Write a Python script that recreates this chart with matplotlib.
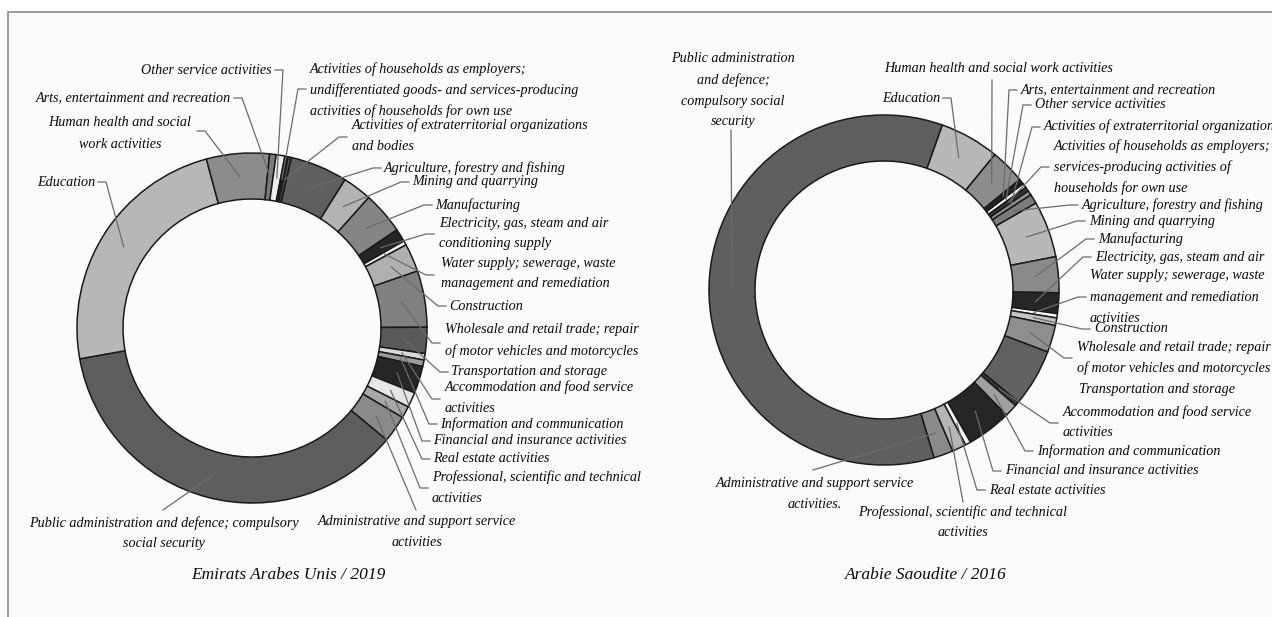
import matplotlib
matplotlib.use('Agg')
import matplotlib.pyplot as plt
from matplotlib.patches import Rectangle
import numpy as np

W, H = 1272, 617

# ISIC sections, clockwise order in both rings
sectors = ['Agriculture', 'Mining', 'Manufacturing', 'Electricity', 'Water supply',
           'Construction', 'Wholesale', 'Transportation', 'Accommodation', 'Information',
           'Financial', 'Real estate', 'Professional', 'Administrative', 'Public administration',
           'Education', 'Human health', 'Arts', 'Other service', 'Households', 'Extraterritorial']

# shares of employment (%)
uae_share = [5.3, 2.7, 3.9, 1.2, 0.4, 2.6, 5.2, 2.4, 0.6, 0.6, 2.5,
             1.4, 1.1, 2.5, 36.1, 23.6, 5.8, 0.6, 0.8, 0.3, 0.3]
ksa_share = [0.9, 5.2, 3.3, 1.9, 0.4, 0.7, 2.5, 5.3, 0.4, 1.2, 4.1,
             0.5, 1.3, 1.8, 59.9, 5.5, 3.2, 0.5, 0.4, 0.4, 0.4]

uae_colors = ['#5f5f5f', '#b3b3b3', '#858585', '#252525', '#f2f2f2', '#b0b0b0', '#808080',
              '#5a5a5a', '#d9d9d9', '#9a9a9a', '#262626', '#e6e6e6', '#a8a8a8', '#8a8a8a',
              '#5e5e5e', '#b7b7b7', '#8c8c8c', '#7a7a7a', '#ececec', '#1e1e1e', '#4a4a4a']
ksa_colors = ['#7c7c7c', '#b8b8b8', '#8a8a8a', '#262626', '#f5f5f5', '#c4c4c4', '#8e8e8e',
              '#616161', '#3a3a3a', '#a0a0a0', '#262626', '#f5f5f5', '#b5b5b5', '#8a8a8a',
              '#5f5f5f', '#b8b8b8', '#8c8c8c', '#222222', '#ffffff', '#333333', '#909090']

# label layout: (sector index, lines, x, y of first line, ha, leader start, leader kind)
uae_labels = [
    (0, ['Agriculture, forestry and fishing'], 384, 168, 'left', (381, 168), 'elbow'),
    (1, ['Mining and quarrying'], 412, 182, 'left', (409, 182), 'elbow'),
    (2, ['Manufacturing'], 435, 205, 'left', (432, 205), 'elbow'),
    (3, ['Electricity, gas, steam and air', 'conditioning supply'], 439, 223, 'left', (434, 234), 'elbow'),
    (4, ['Water supply; sewerage, waste', 'management and remediation'], 441, 263, 'left', (434, 275), 'elbow'),
    (5, ['Construction'], 449, 306, 'left', (446, 306), 'elbow'),
    (6, ['Wholesale and retail trade; repair', 'of motor vehicles and motorcycles'], 445, 330, 'left', (440, 343), 'elbow'),
    (7, ['Transportation and storage'], 451, 372, 'left', (448, 372), 'elbow'),
    (8, ['Accommodation and food service', 'activities'], 445, 387, 'left', (440, 399), 'elbow'),
    (9, ['Information and communication'], 440, 424, 'left', (437, 424), 'elbow'),
    (10, ['Financial and insurance activities'], 433, 441, 'left', (430, 441), 'elbow'),
    (11, ['Real estate activities'], 433, 459, 'left', (430, 459), 'elbow'),
    (12, ['Professional, scientific and technical', 'activities'], 432, 477, 'left', (428, 488), 'elbow'),
    (13, ['Administrative and support service', 'activities'], 417, 522, 'center', (416, 510), 'direct'),
    (14, ['Public administration and defence; compulsory', 'social security'], 164, 523, 'center', (163, 510), 'direct'),
    (15, ['Education'], 95, 182, 'right', (98, 182), 'elbow'),
    (16, ['Human health and social', 'work activities'], 120, 123, 'center', (197, 131), 'elbow_r'),
    (17, ['Arts, entertainment and recreation'], 231, 98, 'right', (234, 98), 'elbow'),
    (18, ['Other service activities'], 272, 70, 'right', (275, 70), 'elbow'),
    (19, ['Activities of households as employers;', 'undifferentiated goods- and services-producing',
          'activities of households for own use'], 310, 69, 'left', (306, 89), 'elbow'),
    (20, ['Activities of extraterritorial organizations', 'and bodies'], 352, 125, 'left', (347, 137), 'elbow'),
]

ksa_labels = [
    (0, ['Agriculture, forestry and fishing'], 1082, 205, 'left', (1078, 205), 'elbow'),
    (1, ['Mining and quarrying'], 1089, 221, 'left', (1085, 221), 'elbow'),
    (2, ['Manufacturing'], 1098, 239, 'left', (1094, 239), 'elbow'),
    (3, ['Electricity, gas, steam and air'], 1095, 257, 'left', (1091, 257), 'elbow'),
    (4, ['Water supply; sewerage, waste', 'management and remediation', 'activities'], 1090, 276, 'left', (1086, 297), 'elbow'),
    (5, ['Construction'], 1094, 329, 'left', (1090, 329), 'elbow'),
    (6, ['Wholesale and retail trade; repair', 'of motor vehicles and motorcycles'], 1077, 347, 'left', (1072, 358), 'elbow'),
    (7, ['Transportation and storage'], 1079, 390, 'left', None, None),
    (8, ['Accommodation and food service', 'activities'], 1063, 412, 'left', (1058, 423), 'elbow'),
    (9, ['Information and communication'], 1037, 451, 'left', (1033, 451), 'elbow'),
    (10, ['Financial and insurance activities'], 1005, 471, 'left', (1001, 471), 'elbow'),
    (11, ['Real estate activities'], 989, 490, 'left', (985, 490), 'elbow'),
    (12, ['Professional, scientific and technical', 'activities'], 963, 512, 'center', (963, 502), 'direct'),
    (13, ['Administrative and support service', 'activities.'], 815, 483, 'center', (813, 470), 'direct'),
    (14, ['Public administration', 'and defence;', 'compulsory social', 'security'], 733, 59, 'center', (731, 130), 'direct'),
    (15, ['Education'], 940, 98, 'right', (943, 98), 'elbow'),
    (16, ['Human health and social work activities'], 884, 68, 'left', (992, 80), 'direct'),
    (17, ['Arts, entertainment and recreation'], 1021, 90, 'left', (1017, 90), 'elbow'),
    (18, ['Other service activities'], 1035, 105, 'left', (1031, 105), 'elbow'),
    (19, ['Activities of households as employers;', 'services-producing activities of',
          'households for own use'], 1054, 146, 'left', (1049, 167), 'elbow'),
    (20, ['Activities of extraterritorial organizations'], 1044, 126, 'left', (1040, 127), 'elbow'),
]

plt.rcParams['font.family'] = ['Liberation Serif', 'DejaVu Serif']

fig = plt.figure(figsize=(W / 100, H / 100), dpi=100)
fig.patch.set_facecolor('white')
ax = fig.add_axes([0, 0, 1, 1])

ax.add_patch(Rectangle((8, -10), W + 20, H - 12 + 10, facecolor='#fbfbfb',
                       edgecolor='#8a8a8a', linewidth=1.2, zorder=0))


def donut(share, colors, cx, cy, start, labels, title, tx):
    wedges, _ = ax.pie(share, colors=colors, center=(cx, H - cy), radius=175,
                       startangle=90 - start, counterclock=False,
                       wedgeprops=dict(width=46, edgecolor='#1a1a1a', linewidth=1.1))
    for i, lines, x, y, ha, lead, kind in labels:
        for k, line in enumerate(lines):
            ax.text(x, H - (y + 21 * k), line, ha=ha, va='center',
                    style='italic', fontsize=10.2, color='#0a0a0a')
        if lead is None:
            continue
        w = wedges[i]
        a = np.radians((w.theta1 + w.theta2) / 2)
        r = w.r - w.width / 2
        px = w.center[0] + r * np.cos(a)
        py = w.center[1] + r * np.sin(a)
        lx, ly = lead
        if kind == 'elbow' and ha == 'left':
            xs, ys = [lx, lx - 8, px], [H - ly, H - ly, py]
        elif kind in ('elbow', 'elbow_r'):
            xs, ys = [lx, lx + 8, px], [H - ly, H - ly, py]
        else:
            xs, ys = [lx, px], [H - ly, py]
        ax.plot(xs, ys, color='#6b6b6b', linewidth=0.9)
    ax.text(tx, H - 575, title, ha='center', va='center', style='italic',
            fontsize=12.5, color='#0a0a0a')


donut(uae_share, uae_colors, 252, 328, 13, uae_labels, 'Emirats Arabes Unis / 2019', 288)
donut(ksa_share, ksa_colors, 884, 290, 57, ksa_labels, 'Arabie Saoudite / 2016', 926)

ax.set_xlim(0, W)
ax.set_ylim(0, H)
ax.set_aspect('auto')
ax.axis('off')

fig.savefig('out.png', dpi=100, facecolor='white')
